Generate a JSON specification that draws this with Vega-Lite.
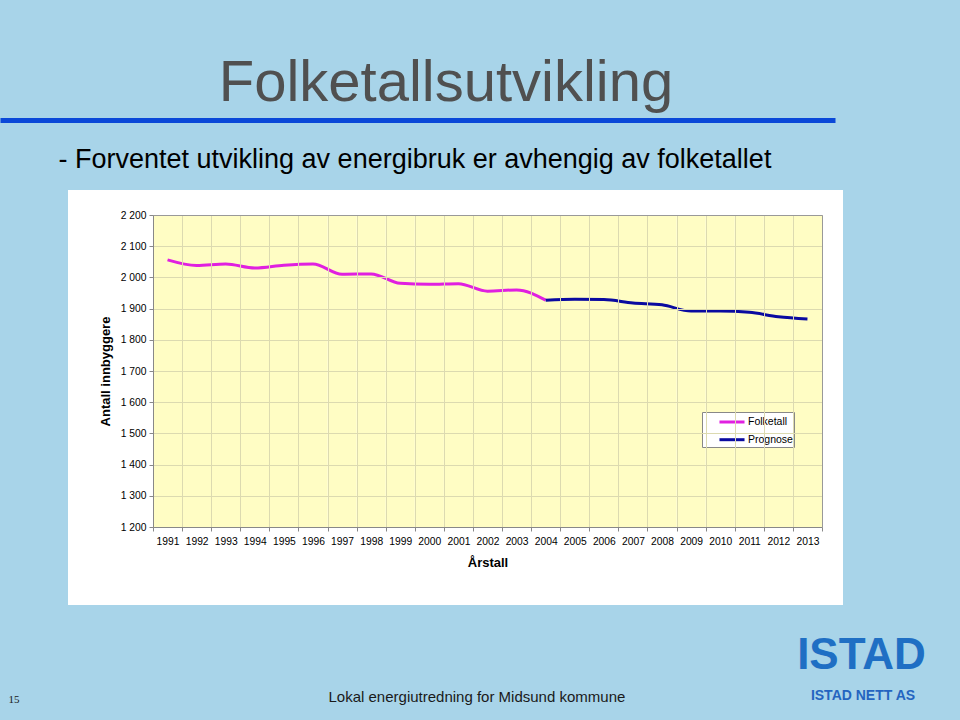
{
  "$schema": "https://vega.github.io/schema/vega-lite/v6.json",
  "width": 775,
  "height": 415,
  "autosize": {"type": "none"},
  "padding": {"left": 68, "top": 190, "right": 117, "bottom": 115},
  "background": "#a8d4e9",
  "title": {
    "text": "Folketallsutvikling",
    "orient": "top",
    "anchor": "middle",
    "frame": "group",
    "dx": -9.5,
    "offset": -39,
    "baseline": "alphabetic",
    "font": "Liberation Sans",
    "fontSize": 58,
    "fontWeight": "normal",
    "color": "#505050"
  },
  "datasets": {
    "pop": [
      {"year": 1991, "value": 2056, "series": "Folketall"},
      {"year": 1992, "value": 2038, "series": "Folketall"},
      {"year": 1993, "value": 2043, "series": "Folketall"},
      {"year": 1994, "value": 2030, "series": "Folketall"},
      {"year": 1995, "value": 2039, "series": "Folketall"},
      {"year": 1996, "value": 2043, "series": "Folketall"},
      {"year": 1997, "value": 2010, "series": "Folketall"},
      {"year": 1998, "value": 2011, "series": "Folketall"},
      {"year": 1999, "value": 1981, "series": "Folketall"},
      {"year": 2000, "value": 1978, "series": "Folketall"},
      {"year": 2001, "value": 1980, "series": "Folketall"},
      {"year": 2002, "value": 1956, "series": "Folketall"},
      {"year": 2003, "value": 1960, "series": "Folketall"},
      {"year": 2004, "value": 1927, "series": "Folketall"},
      {"year": 2004, "value": 1927, "series": "Prognose"},
      {"year": 2005, "value": 1930, "series": "Prognose"},
      {"year": 2006, "value": 1929, "series": "Prognose"},
      {"year": 2007, "value": 1918, "series": "Prognose"},
      {"year": 2008, "value": 1912, "series": "Prognose"},
      {"year": 2009, "value": 1892, "series": "Prognose"},
      {"year": 2010, "value": 1892, "series": "Prognose"},
      {"year": 2011, "value": 1888, "series": "Prognose"},
      {"year": 2012, "value": 1874, "series": "Prognose"},
      {"year": 2013, "value": 1867, "series": "Prognose"}
    ]
  },
  "layer": [
    {
      "data": {"name": "pop"},
      "mark": {"type": "rect", "fill": "#FFFDC4", "strokeWidth": 0},
      "encoding": {
        "x": {
          "field": "year",
          "type": "ordinal",
          "scale": {"type": "band", "domain": [1991,1992,1993,1994,1995,1996,1997,1998,1999,2000,2001,2002,2003,2004,2005,2006,2007,2008,2009,2010,2011,2012,2013], "range": [85, 754], "paddingInner": 0, "paddingOuter": 0},
          "axis": {
            "orient": "bottom",
            "offset": -78,
            "title": "Årstall",
            "titleFont": "Liberation Sans",
            "titleFontSize": 13,
            "titleFontWeight": "bold",
            "titleColor": "black",
            "titlePadding": 10,
            "labelFont": "Liberation Sans",
            "labelFontSize": 10.3,
            "labelColor": "black",
            "labelAngle": 0,
            "labelPadding": 5,
            "domainColor": "#888888",
            "tickColor": "#888888",
            "tickSize": 4,
            "tickBand": "extent",
            "grid": false,
            "zindex": 1
          }
        },
        "y": {
          "datum": 1200,
          "type": "quantitative",
          "scale": {"domain": [1200, 2200], "range": [337, 25], "nice": false, "zero": false},
          "axis": {
            "orient": "left",
            "offset": -85,
            "values": [1200, 1300, 1400, 1500, 1600, 1700, 1800, 1900, 2000, 2100, 2200],
            "format": ",d",
            "title": "Antall innbyggere",
            "titleFont": "Liberation Sans",
            "titleFontSize": 13,
            "titleFontWeight": "bold",
            "titleColor": "black",
            "titlePadding": 8,
            "labelFont": "Liberation Sans",
            "labelFontSize": 10.3,
            "labelColor": "black",
            "labelPadding": 3,
            "domainColor": "#888888",
            "tickColor": "#888888",
            "tickSize": 4,
            "grid": true,
            "gridColor": "#dcdab0",
            "zindex": 1
          }
        },
        "y2": {"datum": 2200}
      }
    },
    {
      "data": {"name": "pop"},
      "transform": [{"filter": "datum.series === 'Folketall'"}],
      "mark": {"type": "line", "strokeWidth": 3, "interpolate": "monotone"},
      "encoding": {
        "x": {
          "field": "year",
          "type": "ordinal",
          "scale": {"type": "band", "domain": [1991,1992,1993,1994,1995,1996,1997,1998,1999,2000,2001,2002,2003,2004,2005,2006,2007,2008,2009,2010,2011,2012,2013], "range": [85, 754], "paddingInner": 0, "paddingOuter": 0},
          "axis": {
            "orient": "top",
            "offset": -25,
            "labels": false,
            "ticks": false,
            "tickBand": "extent",
            "grid": true,
            "gridColor": "#dcdab0",
            "domain": true,
            "domainColor": "#999999",
            "title": "ISTAD",
            "titleX": 793,
            "titleY": 453,
            "titleAlign": "center",
            "titleAngle": 0,
            "titleBaseline": "alphabetic",
            "titleFont": "Liberation Sans",
            "titleFontSize": 44,
            "titleFontWeight": "bold",
            "titleColor": "#1f6fc4",
            "zindex": 1
          }
        },
        "y": {
          "field": "value",
          "type": "quantitative",
          "scale": {"domain": [1200, 2200], "range": [337, 25], "nice": false, "zero": false},
          "axis": {
            "orient": "right",
            "offset": -21,
            "labels": false,
            "ticks": false,
            "grid": false,
            "domain": true,
            "domainColor": "#999999",
            "title": "Lokal energiutredning for Midsund kommune",
            "titleX": -494,
            "titleY": 511,
            "titleAngle": 0,
            "titleAlign": "left",
            "titleBaseline": "alphabetic",
            "titleFont": "Liberation Sans",
            "titleFontSize": 15,
            "titleFontWeight": "normal",
            "titleColor": "#1a1a1a",
            "zindex": 1
          }
        },
        "color": {
          "field": "series",
          "type": "nominal",
          "scale": {"domain": ["Folketall", "Prognose"], "range": ["#E020E0", "#0A0AA0"]},
          "legend": {
            "title": null,
            "orient": "none",
            "legendX": 634,
            "legendY": 222,
            "symbolType": "M-1.67,0H1.67",
            "symbolSize": 225,
            "symbolStrokeWidth": 3,
            "labelFont": "Liberation Sans",
            "labelFontSize": 10.5,
            "labelColor": "black",
            "labelOffset": 7,
            "fillColor": "white",
            "strokeColor": "#888888",
            "padding": 1,
            "symbolOffset": 20,
            "rowPadding": 2.7
          }
        }
      }
    },
    {
      "data": {"name": "pop"},
      "transform": [{"filter": "datum.series === 'Prognose'"}],
      "mark": {"type": "line", "strokeWidth": 3, "interpolate": "monotone"},
      "encoding": {
        "x": {
          "field": "year",
          "type": "ordinal",
          "scale": {"type": "band", "domain": [1991,1992,1993,1994,1995,1996,1997,1998,1999,2000,2001,2002,2003,2004,2005,2006,2007,2008,2009,2010,2011,2012,2013], "range": [85, 754], "paddingInner": 0, "paddingOuter": 0},
          "axis": {
            "orient": "bottom",
            "labels": false,
            "ticks": false,
            "grid": false,
            "domain": false,
            "title": "15",
            "titleX": -60,
            "titleY": 97,
            "titleAlign": "left",
            "titleAngle": 0,
            "titleBaseline": "alphabetic",
            "titleFont": "Liberation Serif",
            "titleFontSize": 11,
            "titleFontWeight": "normal",
            "titleColor": "#1a1a1a"
          }
        },
        "y": {
          "field": "value",
          "type": "quantitative",
          "scale": {"domain": [1200, 2200], "range": [337, 25], "nice": false, "zero": false},
          "axis": {
            "orient": "right",
            "labels": false,
            "ticks": false,
            "grid": false,
            "domain": false,
            "title": "ISTAD NETT AS",
            "titleX": 19.5,
            "titleY": 509,
            "titleAngle": 0,
            "titleAlign": "center",
            "titleBaseline": "alphabetic",
            "titleFont": "Liberation Sans",
            "titleFontSize": 14,
            "titleFontWeight": "bold",
            "titleColor": "#2464c0"
          }
        },
        "color": {
          "field": "series",
          "type": "nominal",
          "scale": {"domain": ["Folketall", "Prognose"], "range": ["#E020E0", "#0A0AA0"]},
          "legend": {
            "title": null,
            "orient": "none",
            "legendX": 634,
            "legendY": 222,
            "symbolType": "M-1.67,0H1.67",
            "symbolSize": 225,
            "symbolStrokeWidth": 3,
            "labelFont": "Liberation Sans",
            "labelFontSize": 10.5,
            "labelColor": "black",
            "labelOffset": 7,
            "fillColor": "white",
            "strokeColor": "#888888",
            "padding": 1,
            "symbolOffset": 20,
            "rowPadding": 2.7
          }
        }
      }
    },
    {
      "data": {"values": []},
      "mark": {"type": "rule"},
      "encoding": {
        "x": {
          "field": "v",
          "type": "quantitative",
          "scale": {"domain": [0, 1], "range": [-68, 767], "nice": false, "zero": false},
          "axis": {
            "orient": "top",
            "offset": 70,
            "labels": false,
            "ticks": false,
            "grid": false,
            "domain": true,
            "domainColor": "#0a48d8",
            "domainWidth": 5,
            "title": "- Forventet utvikling av energibruk er avhengig av folketallet",
            "titleX": -10,
            "titleY": 47.7,
            "titleAlign": "left",
            "titleAngle": 0,
            "titleBaseline": "alphabetic",
            "titleFont": "Liberation Sans",
            "titleFontSize": 27,
            "titleFontWeight": "normal",
            "titleColor": "black"
          }
        }
      }
    }
  ],
  "resolve": {
    "scale": {"x": "independent"},
    "axis": {"x": "independent", "y": "independent"}
  },
  "config": {
    "view": {"fill": "white", "stroke": null},
    "locale": {
      "number": {"decimal": ",", "thousands": " ", "grouping": [3], "currency": ["", " kr"]}
    }
  }
}
